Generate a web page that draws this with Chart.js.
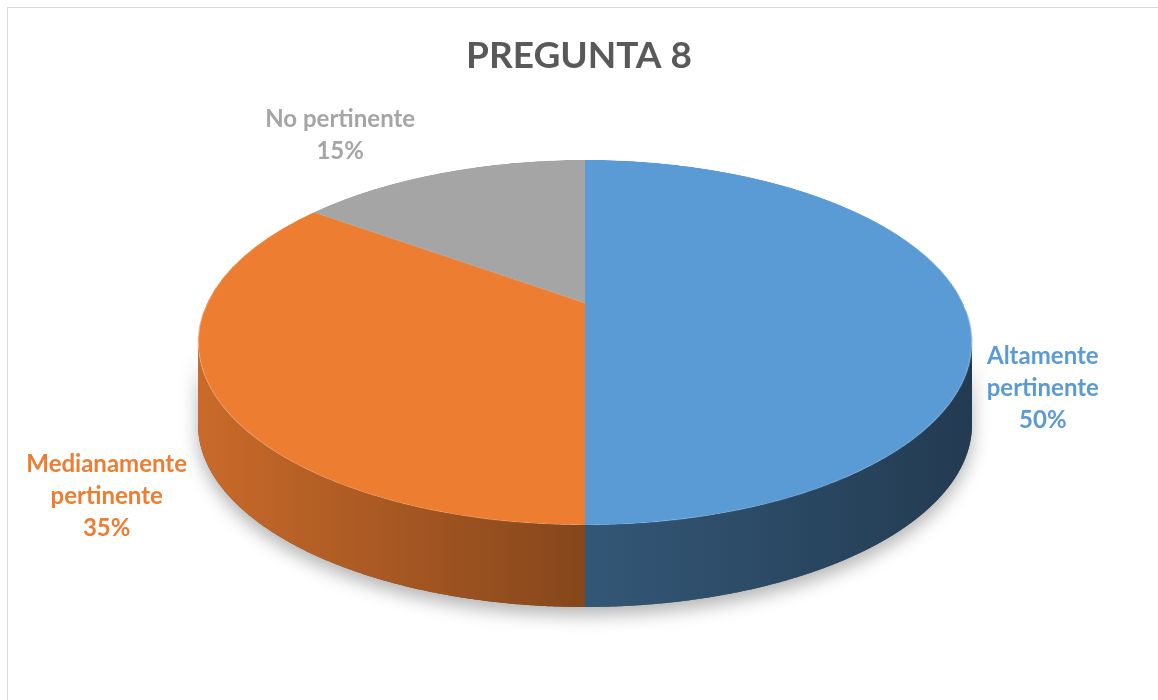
<!DOCTYPE html>
<html>
<head>
<meta charset="utf-8">
<script src="https://cdn.jsdelivr.net/npm/chart.js@4.4.1/dist/chart.umd.min.js"></script>
<style>
  html, body { margin: 0; background: #fff; overflow: hidden; }
  #frame { position: absolute; left: 7px; top: 7px; width: 1200px; height: 760px; border: 1px solid #d9d9d9; }
  #wrap { position: absolute; left: 0; top: 0; width: 1158px; height: 700px; }
</style>
</head>
<body>
<div id="frame"></div>
<div id="wrap"><canvas id="myChart"></canvas></div>
<script>
const categories = ['Altamente pertinente', 'Medianamente pertinente', 'No pertinente'];
const shares = [50, 35, 15];
const sliceColors = ['#5B9BD5', '#ED7D31', '#A5A5A5'];

function shade(hex, f) {
    const n = parseInt(hex.slice(1), 16);
    const r = Math.round(((n >> 16) & 255) * f);
    const g = Math.round(((n >> 8) & 255) * f);
    const b = Math.round((n & 255) * f);
    return 'rgb(' + r + ',' + g + ',' + b + ')';
}

function wrapText(ctx, text, maxWidth) {
    const words = text.split(' ');
    const lines = [];
    let line = '';
    words.forEach(w => {
        const test = line ? line + ' ' + w : w;
        if (line && ctx.measureText(test).width > maxWidth) {
            lines.push(line);
            line = w;
        } else {
            line = test;
        }
    });
    if (line) lines.push(line);
    return lines;
}

// perspective view of a flat disc: maps circle angle -> screen point
function makeProjection(o) {
    const c = (2 * o.yMid - o.yTop - o.yBot) / (o.yBot - o.yTop);
    const a = o.yBot * (1 + c) - o.yMid;
    const b = o.yMid;
    const s = o.rx * Math.sqrt(1 - c * c);
    return {
        c, a, b, s,
        point(t) {
            const u = Math.cos(t), v = Math.sin(t), d = 1 + c * v;
            return [o.cx + s * u / d, (a * v + b) / d];
        },
        vAt(y) {
            return Math.max(-1, Math.min(1, (b - y) / (y * c - a)));
        }
    };
}

// pie is drawn flat by Chart.js on a spare canvas, then tilted row by row,
// with the side wall added underneath
const pie3d = {
    id: 'pie3d',
    beforeDatasetsDraw(chart, args, opts) {
        const ctx = chart.ctx;
        const arcs = chart.getDatasetMeta(0).data;
        const pr = makeProjection(opts);
        const dpr = chart.currentDevicePixelRatio;
        const depth = opts.depth;
        const phi1 = Math.asin(-pr.c), phi2 = Math.PI - phi1;
        const step = 0.005;

        const wallPath = (a, b) => {
            ctx.beginPath();
            for (let t = a; t < b; t += step) {
                const p = pr.point(t);
                ctx.lineTo(p[0], p[1]);
            }
            let p = pr.point(b);
            ctx.lineTo(p[0], p[1]);
            for (let t = b; t > a; t -= step) {
                p = pr.point(t);
                ctx.lineTo(p[0], p[1] + depth);
            }
            p = pr.point(a);
            ctx.lineTo(p[0], p[1] + depth);
            ctx.closePath();
        };

        // soft shadow below the wall
        ctx.save();
        ctx.shadowColor = 'rgba(0,0,0,0.3)';
        ctx.shadowBlur = 18;
        ctx.shadowOffsetY = 8;
        ctx.fillStyle = '#555';
        wallPath(phi1, phi2);
        ctx.fill();
        ctx.restore();

        arcs.forEach((arc, i) => {
            [-2 * Math.PI, 0, 2 * Math.PI].forEach(off => {
                const a = Math.max(arc.startAngle + off, phi1);
                const b = Math.min(arc.endAngle + off, phi2);
                if (b <= a) return;
                const grad = ctx.createLinearGradient(opts.cx - opts.rx, 0, opts.cx + opts.rx, 0);
                grad.addColorStop(0, shade(sliceColors[i], 0.85));
                grad.addColorStop(0.5, shade(sliceColors[i], 0.56));
                grad.addColorStop(1, shade(sliceColors[i], 0.38));
                ctx.fillStyle = grad;
                wallPath(a, b);
                ctx.fill();
            });
        });

        // flat pie, drawn by the arc elements themselves
        const off = document.createElement('canvas');
        off.width = chart.canvas.width;
        off.height = chart.canvas.height;
        const octx = off.getContext('2d');
        octx.scale(dpr, dpr);
        arcs.forEach(arc => arc.draw(octx, chart.chartArea));

        const R = arcs[0].outerRadius, ox = arcs[0].x, oy = arcs[0].y;
        ctx.save();
        ctx.imageSmoothingEnabled = true;
        for (let y = Math.floor(opts.yTop); y < Math.ceil(opts.yBot); y++) {
            const v0 = pr.vAt(y), v1 = pr.vAt(y + 1), vm = pr.vAt(y + 0.5);
            if (v1 <= v0) continue;
            const k = pr.s / (1 + pr.c * vm);
            const sy0 = oy + R * v0, sy1 = oy + R * v1;
            ctx.drawImage(off, (ox - R) * dpr, sy0 * dpr, 2 * R * dpr, (sy1 - sy0) * dpr,
                opts.cx - k, y, 2 * k, 1);
        }
        ctx.restore();
        return false;
    }
};

const sliceLabels = {
    id: 'sliceLabels',
    afterDraw(chart, args, opts) {
        const ctx = chart.ctx;
        const arcs = chart.getDatasetMeta(0).data;
        const pr = makeProjection(chart.options.plugins.pie3d);
        const total = shares.reduce((s, v) => s + v, 0);
        ctx.save();
        ctx.font = 'bold ' + opts.size + 'px Lato';
        ctx.textAlign = 'center';
        ctx.textBaseline = 'middle';
        arcs.forEach((arc, i) => {
            const p = pr.point((arc.startAngle + arc.endAngle) / 2);
            const x = p[0] + opts.nudge[i][0];
            const y = p[1] + opts.nudge[i][1];
            const lines = wrapText(ctx, categories[i], opts.maxWidth);
            lines.push(Math.round(shares[i] / total * 100) + '%');
            ctx.fillStyle = sliceColors[i];
            const top = y - (lines.length - 1) * opts.lineHeight / 2;
            lines.forEach((l, j) => ctx.fillText(l, x, top + j * opts.lineHeight));
        });
        ctx.restore();
    }
};

Chart.defaults.font.family = 'Lato';

const config = {
    type: 'pie',
    data: {
        labels: categories,
        datasets: [{
            data: shares,
            backgroundColor: sliceColors,
            borderWidth: 0
        }]
    },
    options: {
        responsive: true,
        maintainAspectRatio: false,
        animation: false,
        events: [],
        plugins: {
            legend: { display: false },
            tooltip: { enabled: false },
            title: {
                display: true,
                text: 'PREGUNTA 8',
                color: '#595959',
                font: { size: 37, weight: 'bold' },
                padding: { top: 34, bottom: 10 }
            },
            pie3d: { cx: 585, rx: 387, yTop: 160, yMid: 303, yBot: 525, depth: 82 },
            sliceLabels: {
                size: 24,
                maxWidth: 210,
                lineHeight: 32,
                nudge: [[80, 85], [-105, 106], [-101, -38]]
            }
        }
    },
    plugins: [pie3d, sliceLabels]
};

window.myChart = new Chart(document.getElementById('myChart'), config);
</script>
</body>
</html>
